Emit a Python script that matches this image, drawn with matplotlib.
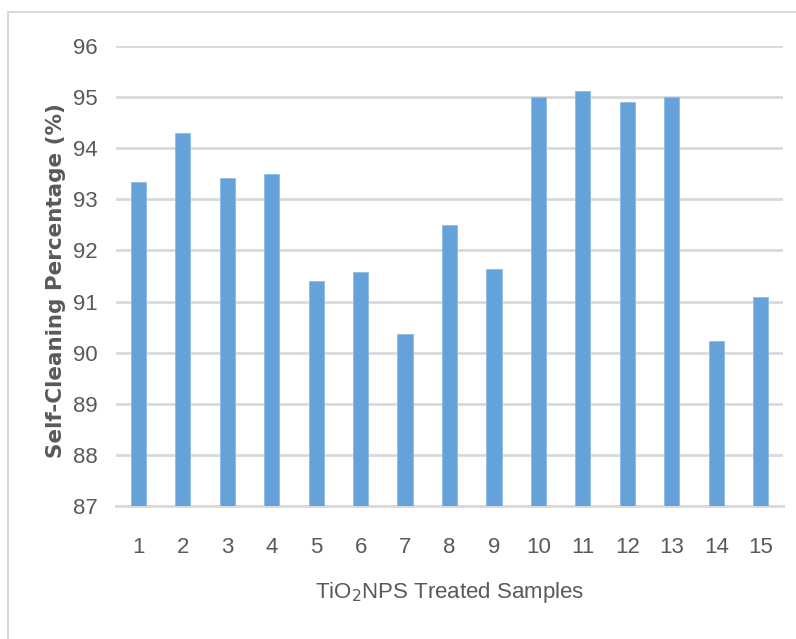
import matplotlib
matplotlib.use("Agg")
import matplotlib.pyplot as plt
from matplotlib.patches import Rectangle

samples = [str(i) for i in range(1, 16)]
values = [93.34, 94.30, 93.41, 93.49, 91.40, 91.58, 90.37, 92.50, 91.64,
          95.00, 95.12, 94.90, 95.00, 90.22, 91.08]
yticks = [87, 88, 89, 90, 91, 92, 93, 94, 95, 96]

tickfont = "Liberation Sans"

W, H = 796, 639
fig = plt.figure(figsize=(W / 100, H / 100), dpi=100)
fig.patch.set_facecolor("white")
fig.patches.append(Rectangle((8 / W, 0 - 0.01), 1.0, (H - 12) / H + 0.01,
                             transform=fig.transFigure, fill=False,
                             edgecolor="#d9d9d9", linewidth=1.5))

ax = fig.add_axes([116 / W, 1 - 506 / H, (783 - 116) / W, (506 - 46) / H])
x = list(range(len(samples)))
ax.bar(x, [v - 87 for v in values], bottom=87, width=0.34, color="#64a2d9",
       edgecolor="#8dbbe5", linewidth=0.6, zorder=3)
ax.set_xlim(-0.5, len(samples) - 0.5)
ax.set_ylim(87, 96)
ax.set_yticks(yticks)
ax.set_yticklabels([str(t) for t in yticks])
ax.set_xticks(x)
ax.set_xticklabels(samples)
ax.grid(axis="y", color="#d9d9d9", linewidth=2, zorder=0)
ax.set_axisbelow(True)
for s in ["top", "right", "left"]:
    ax.spines[s].set_visible(False)
ax.spines["bottom"].set_color("#d9d9d9")
ax.spines["bottom"].set_linewidth(2)
ax.tick_params(length=0, labelsize=16, colors="#595959")
ax.tick_params(axis="y", pad=13)
ax.tick_params(axis="x", pad=22)
for lab in ax.get_xticklabels() + ax.get_yticklabels():
    lab.set_family(tickfont)

ax.set_ylabel("Self-Cleaning Percentage (%)", fontsize=15.5, color="#595959",
              fontweight="bold")
ax.yaxis.set_label_coords(-0.075, 0.49)
ax.set_xlabel("TiO$_2$NPS Treated Samples", fontsize=16, color="#595959",
              family=tickfont, labelpad=16)
fig.savefig("out.png", dpi=100, facecolor="white")
